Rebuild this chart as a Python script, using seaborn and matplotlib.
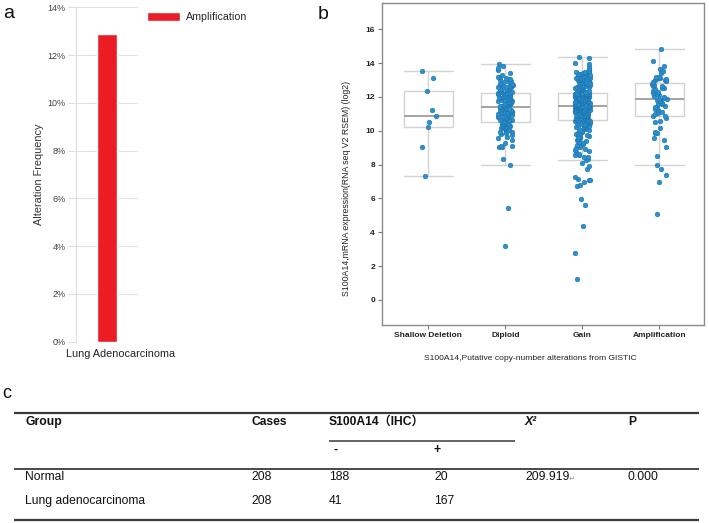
import numpy as np
import pandas as pd
import seaborn as sns
import matplotlib.pyplot as plt
import matplotlib.transforms as mtransforms
from matplotlib.ticker import PercentFormatter

# ---- panel a: alteration frequency ----
study = ['Lung Adenocarcinoma']
alt_type = ['Amplification']
alt_freq = [12.87]

# ---- panel b: mRNA expression by putative CNA ----
cna_order = ['Shallow Deletion', 'Diploid', 'Gain', 'Amplification']

shallow = [13.53, 13.14, 12.33, 11.23, 10.87, 10.52, 10.20, 9.06, 7.35]

diploid = [
    3.19, 5.42, 7.95, 8.31,
    9.02, 9.04, 9.07, 9.10, 9.27, 9.46, 9.58, 9.65, 9.74, 9.80,
    9.85, 9.91, 9.94, 9.99, 10.04, 10.07, 10.09, 10.14, 10.18, 10.20,
    10.24, 10.28, 10.30, 10.32, 10.36, 10.40, 10.42, 10.43, 10.46, 10.48, 10.50,
    10.53, 10.55, 10.58, 10.62, 10.64, 10.65, 10.69, 10.73, 10.75, 10.76,
    10.80, 10.81, 10.85, 10.89, 10.90, 10.92, 10.95, 10.99, 11.01, 11.02,
    11.06, 11.09, 11.10, 11.13, 11.17, 11.19, 11.20, 11.24, 11.28, 11.29,
    11.31, 11.34, 11.38, 11.39, 11.42,
    11.44, 11.46, 11.49, 11.53, 11.54, 11.56, 11.59, 11.63, 11.64, 11.66,
    11.70, 11.72, 11.73, 11.77, 11.80, 11.81, 11.84, 11.88, 11.89, 11.91,
    11.95, 11.97, 11.98, 12.02, 12.05, 12.06, 12.08, 12.12, 12.15, 12.16,
    12.19, 12.20, 12.22, 12.23, 12.24,
    12.26, 12.30, 12.31, 12.35, 12.39, 12.40, 12.44, 12.48, 12.49, 12.53,
    12.57, 12.58, 12.61, 12.66, 12.68, 12.70, 12.75, 12.77, 12.79, 12.84,
    12.86, 12.91, 12.93, 12.99, 13.03, 13.05, 13.11, 13.16, 13.19, 13.31,
    13.40, 13.59, 13.70, 13.85, 13.93,
]

gain = [
    1.26, 2.76, 4.39, 5.60, 5.95, 6.74, 6.78, 7.00, 7.06, 7.10,
    7.12, 7.29, 7.72, 7.94, 8.08, 8.28,
    8.35, 8.43, 8.46, 8.55, 8.59, 8.64, 8.72, 8.78, 8.86, 8.91,
    9.01, 9.03, 9.13, 9.17, 9.24, 9.30, 9.36, 9.41, 9.45, 9.52,
    9.57, 9.61, 9.66, 9.70, 9.75, 9.80, 9.82, 9.87, 9.91, 9.96,
    10.00, 10.03, 10.07, 10.10, 10.15, 10.18, 10.20, 10.24, 10.28, 10.31,
    10.32, 10.36, 10.39, 10.41, 10.45, 10.46, 10.50, 10.51, 10.55, 10.56,
    10.58, 10.59, 10.60, 10.61,
    10.63, 10.65, 10.66, 10.68, 10.70, 10.71, 10.72, 10.74, 10.76, 10.77,
    10.79, 10.80, 10.81, 10.83, 10.85, 10.86, 10.88, 10.89, 10.90, 10.92,
    10.94, 10.95, 10.96, 10.98, 10.99, 11.01, 11.02, 11.04, 11.05, 11.07,
    11.08, 11.09, 11.11, 11.12, 11.14, 11.15, 11.17, 11.18, 11.20, 11.21,
    11.22, 11.24, 11.25, 11.27, 11.28, 11.29, 11.31, 11.32, 11.33, 11.34,
    11.35, 11.36, 11.37, 11.38, 11.38, 11.39, 11.40, 11.41, 11.41, 11.42,
    11.43, 11.43, 11.44, 11.44, 11.45, 11.45, 11.45, 11.46, 11.46, 11.46,
    11.48, 11.49, 11.51, 11.52, 11.53, 11.55, 11.56, 11.57, 11.58, 11.60,
    11.61, 11.62, 11.63, 11.65, 11.66, 11.67, 11.69, 11.70, 11.71, 11.72,
    11.74, 11.75, 11.76, 11.77, 11.78, 11.80, 11.81, 11.82, 11.84, 11.85,
    11.86, 11.87, 11.88, 11.90, 11.91, 11.92, 11.94, 11.95, 11.96, 11.97,
    11.98, 12.00, 12.01, 12.02, 12.03, 12.05, 12.06, 12.07, 12.08, 12.09,
    12.10, 12.11, 12.12, 12.13, 12.14, 12.14, 12.15, 12.16, 12.16, 12.17,
    12.17, 12.18, 12.18, 12.18, 12.19, 12.19, 12.19, 12.20, 12.20, 12.20,
    12.22, 12.23, 12.26, 12.27, 12.30, 12.33, 12.34, 12.36, 12.39, 12.40,
    12.41, 12.44, 12.47, 12.48, 12.50, 12.51, 12.54, 12.57, 12.58, 12.60,
    12.63, 12.64, 12.66, 12.67, 12.70, 12.73, 12.74, 12.76, 12.79, 12.80,
    12.81, 12.84, 12.87, 12.88, 12.90, 12.91, 12.94, 12.97, 12.98, 13.00,
    13.03, 13.04, 13.05, 13.08, 13.11, 13.12, 13.13, 13.16, 13.19, 13.20,
    13.21, 13.24, 13.27, 13.28, 13.30, 13.33, 13.35, 13.37, 13.41, 13.44,
    13.46, 13.50, 13.52, 13.55, 13.62, 13.75, 13.93, 13.99, 14.28, 14.34,
]

amplif = [
    5.08, 6.96, 7.39, 7.74, 7.98, 8.53, 9.06, 9.46, 9.60, 9.85,
    9.89, 9.91, 10.19, 10.50, 10.60, 10.75, 10.85,
    10.90, 10.98, 11.06, 11.11, 11.20, 11.29, 11.34, 11.43, 11.49, 11.56,
    11.60, 11.65, 11.73, 11.76, 11.81, 11.85,
    11.87, 11.93, 11.97, 12.06, 12.10, 12.17, 12.26, 12.30, 12.37, 12.46,
    12.50, 12.54, 12.63, 12.67, 12.73, 12.78,
    12.85, 12.90, 12.96, 13.00, 13.02, 13.06, 13.08, 13.10, 13.13, 13.15,
    13.20, 13.40, 13.53, 13.65, 13.85, 14.13, 14.83,
]

# ---- panel c: table ----
tbl_header = ['Group', 'Cases', 'S100A14（IHC）', 'X²', 'P']
ihc_levels = ['-', '+']
tbl_groups = ['Normal', 'Lung adenocarcinoma']
tbl_cases = [208, 208]
ihc_neg = [188, 41]
ihc_pos = [20, 167]
chi_sq = '209.919'
p_value = '0.000'

freq_df = pd.DataFrame({'study': study, 'freq': alt_freq, 'type': alt_type})
expr_df = pd.DataFrame({
    'cna': ([cna_order[0]] * len(shallow) + [cna_order[1]] * len(diploid)
            + [cna_order[2]] * len(gain) + [cna_order[3]] * len(amplif)),
    'expr': shallow + diploid + gain + amplif,
})

sns.set_style('ticks')
plt.rcParams['font.family'] = ['Liberation Sans', 'Noto Sans CJK SC', 'DejaVu Sans']

W, H = 709, 523
fig = plt.figure(figsize=(W / 100, H / 100), dpi=100)


def px_axes(x0, y0, x1, y1):
    return fig.add_axes([x0 / W, 1 - y1 / H, (x1 - x0) / W, (y1 - y0) / H])


# table / letters layer in pixel coords
ax_t = fig.add_axes([0, 0, 1, 1])
ax_t.set_xlim(0, W)
ax_t.set_ylim(H, 0)
ax_t.axis('off')

# ===== panel a =====
ax_a = px_axes(76, 7.3, 138, 341.7)
sns.barplot(data=freq_df, x='study', y='freq', hue='type', palette=['#EC1C24'],
            width=0.32, dodge=False, saturation=1, ax=ax_a)
ax_a.set_xlim(-0.5, 0.5)
ax_a.set_ylim(0, 14)
ax_a.set_yticks(range(0, 15, 2))
ax_a.yaxis.set_major_formatter(PercentFormatter(xmax=100, decimals=0))
ax_a.yaxis.grid(True, color='#e2e2e2', lw=0.8)
ax_a.set_axisbelow(True)
for s in ['top', 'right', 'bottom']:
    ax_a.spines[s].set_visible(False)
ax_a.spines['left'].set_color('#dddddd')
ax_a.spines['left'].set_linewidth(0.8)
ax_a.tick_params(axis='y', length=6, width=0.8, color='#dddddd', labelsize=6.5,
                 labelcolor='#444444', pad=1.5)
ax_a.tick_params(axis='x', length=0, labelsize=7.8, labelcolor='#222222', pad=5)
shift = mtransforms.ScaledTranslation(0.14, 0, fig.dpi_scale_trans)
for lbl in ax_a.get_xticklabels():
    lbl.set_transform(lbl.get_transform() + shift)
ax_a.set_xlabel('')
ax_a.set_ylabel('Alteration Frequency', fontsize=7.8, color='#333333')
ax_a.yaxis.set_label_coords(-0.52, 0.5)
ax_a.legend(loc='upper left', bbox_to_anchor=(147 / W, 1 - 12 / H),
            bbox_transform=fig.transFigure, frameon=False, fontsize=7.7,
            handlelength=3.1, handleheight=0.9, handletextpad=0.55,
            borderpad=0, borderaxespad=0)

# ===== panel b =====
ax_b = px_axes(382, 3, 704, 325)
sns.boxplot(data=expr_df, x='cna', y='expr', order=cna_order, width=0.64,
            whis=1.5, showfliers=False, fill=False, color='#d3d3d3',
            saturation=1, linewidth=1.0, capwidths=0.64,
            medianprops={'color': '#9c9c9c', 'linewidth': 1.3}, ax=ax_b)
np.random.seed(7)
sns.stripplot(data=expr_df, x='cna', y='expr', order=cna_order, jitter=0.1,
              size=3.4, color='#2A91D1', edgecolor='#1c6fa6', linewidth=0.35,
              ax=ax_b)
ax_b.set_xlim(-0.6, 3.58)
ax_b.set_ylim(-1.48, 17.55)
ax_b.set_yticks(range(0, 17, 2))
for s in ax_b.spines.values():
    s.set_color('#8c8c8c')
    s.set_linewidth(1.0)
ax_b.tick_params(axis='both', direction='out', length=3, width=0.8,
                 color='#777777', labelsize=6, labelcolor='#222222', pad=2)
for lbl in ax_b.get_xticklabels() + ax_b.get_yticklabels():
    lbl.set_fontweight('bold')
ax_b.set_ylabel('S100A14,mRNA expression(RNA seq V2 RSEM) (log2)',
                fontsize=6.3, color='#222222')
ax_b.yaxis.set_label_coords(-0.096, 0.4255)
ax_b.set_xlabel('S100A14,Putative copy-number alterations from GISTIC',
                fontsize=6.1, color='#222222')
ax_b.xaxis.set_label_coords(0.46, -0.093)

# panel letters
ax_t.text(3, 18, 'a', fontsize=14, va='baseline', ha='left', color='#111111')
ax_t.text(318, 19, 'b', fontsize=14, va='baseline', ha='left', color='#111111')
ax_t.text(2, 398, 'c', fontsize=13, va='baseline', ha='left', color='#111111')

# ===== panel c: table =====
line_c = '#3a3a3a'
ax_t.hlines(413, 14, 699, color=line_c, lw=1.6)
ax_t.hlines(441, 329, 515, color=line_c, lw=1.1)
ax_t.hlines(469, 14, 699, color=line_c, lw=1.3)
ax_t.hlines(520, 14, 699, color=line_c, lw=1.6)

col_x = [25, 251, 329, 525, 628]
fs = 8.7
for x, h in zip(col_x, tbl_header):
    style = 'italic' if h == 'X²' else 'normal'
    ax_t.text(x, 422, h, fontsize=fs, fontweight='bold', fontstyle=style,
              va='center', ha='left', color='#111111')
for x, lv in zip([333, 434], ihc_levels):
    ax_t.text(x, 450, lv, fontsize=fs, fontweight='bold', va='center',
              ha='left', color='#111111')

row_y = [477.5, 501]
for i, y in enumerate(row_y):
    vals = [tbl_groups[i], str(tbl_cases[i]), str(ihc_neg[i]), str(ihc_pos[i])]
    for x, v in zip([25, 251, 329, 434], vals):
        ax_t.text(x, y, v, fontsize=fs, va='center', ha='left', color='#111111')
ax_t.text(525, row_y[0], chi_sq, fontsize=fs, va='center', ha='left', color='#111111')
ax_t.text(569, row_y[0] + 1, '↵', fontsize=5.5, va='center', ha='left',
          color='#999999', family=['DejaVu Sans'])
ax_t.text(628, row_y[0], p_value, fontsize=fs, va='center', ha='left', color='#111111')

fig.savefig('out.png', dpi=100)
